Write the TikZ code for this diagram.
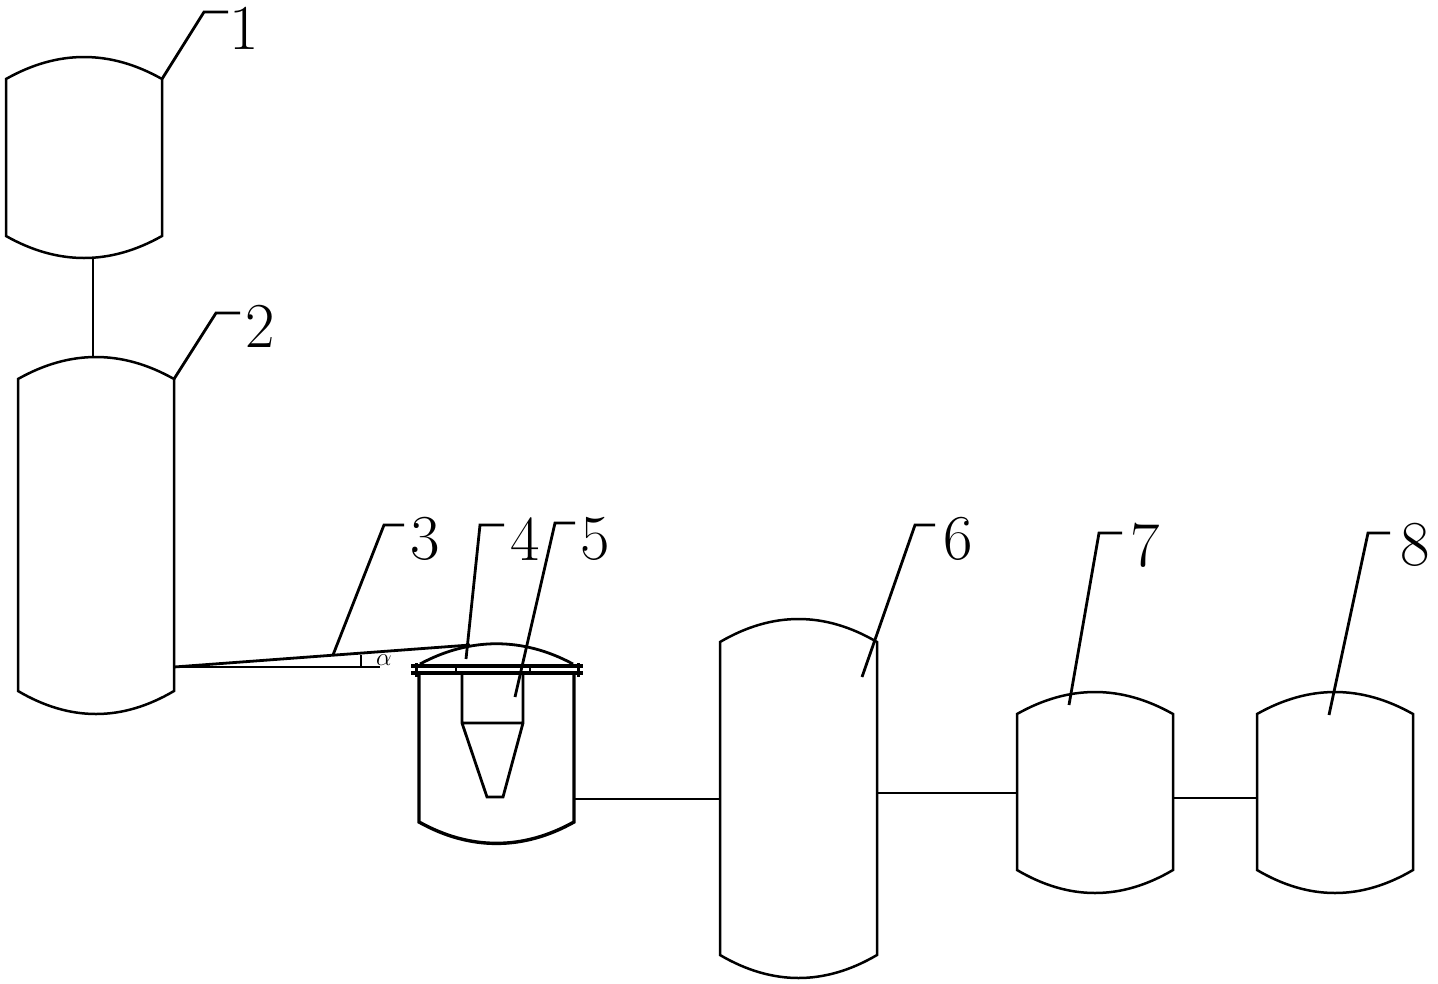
\documentclass[tikz,border=0pt]{standalone}
\newcommand{\vessel}[7]{%
  \coordinate (#1tl) at (#2,#5);
  \coordinate (#1tr) at (#3,#5);
  \coordinate (#1bl) at (#2,#6);
  \coordinate (#1br) at (#3,#6);
  \draw[shell] (#2,#5) .. controls ({#2+(#3-#2)/3},{#5-(#5-#4)*4/3}) and ({#2+(#3-#2)*2/3},{#5-(#5-#4)*4/3}) .. (#3,#5)
    -- (#3,#6) .. controls ({#2+(#3-#2)*2/3},{#6+(#7-#6)*4/3}) and ({#2+(#3-#2)/3},{#6+(#7-#6)*4/3}) .. (#2,#6) -- cycle;
}
\tikzset{
  shell/.style={line width=2.5pt,line join=miter},
  pipe/.style={line width=2.4pt},
  leader/.style={line width=2.8pt},
  num/.style={font=\fontsize{64}{64}\selectfont,inner sep=0pt,anchor=center,text=black},
  thick flange/.style={line width=4.5pt},
}
\begin{document}
\begin{tikzpicture}[x=1pt,y=-1pt]
\useasboundingbox (0,0) rectangle (1438,983);
\vessel{a}{6}{162}{57}{79}{236}{258}
\vessel{b}{18}{174}{357}{379}{691}{714}
\vessel{f}{720}{877}{619}{642}{955}{978}
\vessel{g}{1017}{1173}{692}{714}{870}{893}
\vessel{h}{1257}{1413}{692}{714}{870}{893}
% reactor
\draw[line width=3.4pt] (419,672) -- (419,822) .. controls (470,850.5) and (523,850.5) .. (574,822) -- (574,672);
\draw[line width=2.8pt] (420,664) .. controls (470,637) and (523,637) .. (573,664);
\draw[thick flange] (411,666) -- (583,666);
\draw[line width=3.4pt] (411,673) -- (583,673);
\draw[line width=3pt] (416,663) -- (416,677) (578,663) -- (578,677);
\draw[line width=1.5pt] (456,667) -- (456,672) (530,667) -- (530,672);
% cyclone
\draw[line width=2.8pt] (462,675) -- (462,723) -- (487,797) -- (503,797) -- (523,723) -- (523,675) (462,723) -- (523,723);
% inclined pipe
\coordinate (p3) at (174,667);
\coordinate (p3a) at (470,645);
\coordinate (p3b) at (380,667);
\draw[line width=2.8pt] (p3) -- (p3a);
\draw[line width=1.8pt] (p3) -- (p3b);
\draw[line width=2.4pt] (361,655) -- (361,667);
\node[inner sep=0pt,font=\fontsize{24}{24}\selectfont] (alpha) at (384,660) {$\alpha$};
% connectors
\coordinate (c1a) at (93,258); \coordinate (c1b) at (93,357);
\coordinate (c2a) at (574,799); \coordinate (c2b) at (720,799);
\coordinate (c3a) at (877,793); \coordinate (c3b) at (1017,793);
\coordinate (c4a) at (1173,798); \coordinate (c4b) at (1257,798);
\draw[pipe] (c1a) -- (c1b);
\draw[pipe] (c2a) -- (c2b);
\draw[pipe] (c3a) -- (c3b);
\draw[pipe] (c4a) -- (c4b);
% labels
\node[num] (n1) at (244,28) {1};
\node[num] (n2) at (260,326) {2};
\node[num] (n3) at (425,539) {3};
\node[num] (n4) at (525,539) {4};
\node[num] (n5) at (595,539) {5};
\node[num] (n6) at (958,539) {6};
\node[num] (n7) at (1145,545) {7};
\node[num] (n8) at (1415,545) {8};
% leaders
\draw[leader] (atr) -- (204,12) -- (228,12);
\draw[leader] (btr) -- (216,313) -- (240,313);
\draw[leader] (333,655) -- (384,525) -- (404,525);
\draw[leader] (466,659) -- (480,525) -- (504,525);
\draw[leader] (515,697) -- (555,523) -- (575,523);
\draw[leader] (862,677) -- (915,525) -- (935,525);
\draw[leader] (1069,705) -- (1099,533) -- (1122,533);
\draw[leader] (1329,715) -- (1368,533) -- (1390,533);
\end{tikzpicture}
\end{document}
